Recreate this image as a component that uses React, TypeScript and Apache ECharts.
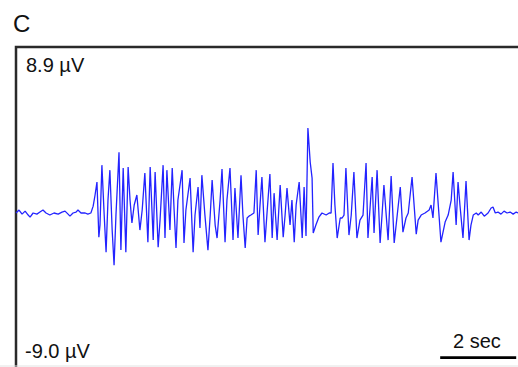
import React, { useEffect, useRef } from "react";
import * as echarts from "echarts";

const panelLabel = "C";
const topLabel = "8.9 µV";
const bottomLabel = "-9.0 µV";
const scaleLabel = "2 sec";
const yMin = -9.0;
const yMax = 8.9;
const xMax = 13.26;

const timeSec = [
  0, 0.08, 0.16, 0.24, 0.32, 0.37, 0.45, 0.55, 0.63, 0.71, 0.79, 0.89, 1.0, 1.11, 1.21, 1.29, 1.37, 1.42, 1.5, 1.58,
  1.63, 1.71, 1.82, 1.89, 1.97,
  2.03, 2.08, 2.13, 2.18, 2.21, 2.26, 2.32, 2.37, 2.42, 2.47, 2.53, 2.58, 2.63, 2.71, 2.76, 2.82, 2.89, 2.95, 3.0, 3.05,
  3.11, 3.18, 3.26, 3.32, 3.39, 3.47, 3.53, 3.61, 3.66, 3.74, 3.79, 3.87, 3.92, 3.97, 4.05, 4.11, 4.16, 4.21, 4.26, 4.37,
  4.42, 4.47, 4.58, 4.66, 4.71, 4.79, 4.84, 4.89, 4.97, 5.05, 5.11, 5.16, 5.24, 5.29, 5.37, 5.42, 5.5, 5.55, 5.63, 5.71,
  5.76, 5.84, 5.92, 5.97, 6.03, 6.08, 6.13, 6.18, 6.26, 6.32, 6.37, 6.42, 6.47, 6.55, 6.61, 6.68, 6.74, 6.79, 6.87, 6.95,
  7.03, 7.08, 7.13, 7.21, 7.26, 7.32, 7.37, 7.45, 7.53, 7.58, 7.63, 7.68, 7.74, 7.79, 7.82, 7.89, 7.97, 8.05, 8.16, 8.24,
  8.29, 8.34, 8.39, 8.45, 8.53, 8.58, 8.63, 8.68, 8.76, 8.82, 8.89, 8.97, 9.05, 9.13, 9.21, 9.26, 9.32, 9.37, 9.42, 9.5,
  9.58, 9.63, 9.68, 9.79, 9.87, 9.95, 10.03, 10.11, 10.18, 10.26, 10.32, 10.42, 10.53, 10.58, 10.66, 10.76, 10.87, 10.92,
  10.97, 11.05, 11.11, 11.18, 11.29, 11.37, 11.45, 11.5, 11.58, 11.63, 11.68, 11.76, 11.84, 11.92, 11.97, 12.03, 12.11,
  12.16, 12.24, 12.32, 12.42, 12.5, 12.55, 12.61, 12.68, 12.76, 12.84, 12.92, 13.0, 13.08, 13.16, 13.21,
];

const microVolts = [
  -0.05, 0.11, -0.11, 0.05, -0.16, -0.27, -0.05, -0.11, 0, 0.11, -0.05, -0.16, -0.05, -0.11, 0, 0.05, -0.11, -0.22, -0.05, 0,
  0.11, -0.05, -0.05, -0.11, -0.05,
  0.32, 0.92, 1.62, -1.35, -0.7, 2.53, -0.16, -2.16, 0.65, 2.26, -0.97, -2.86, -0.16, 3.23, -2.05, 2.37, -2.16, 2.43, 0.65, -0.59,
  0.38, 0.92, -0.97, 0.11, 2.1, -1.62, 2.43, -1.51, 2.16, -1.89, -0.43, 2.53, -1.4, 2.26, -0.97, 2.37, 0.11, -1.94, 0.65, 2.26,
  -1.67, 0.11, 1.83, -2.16, -0.16, 1.35, -0.86, 1.99, -0.16, -2.05, -0.16, 1.73, -0.7, -1.4, 0.65, 2.32, -1.62, 0.65, 2.37, -1.51,
  1.29, -1.4, 1.99, -0.16, -1.94, -0.32, -0.22, -0.16, -0.05, 2.26, -1.24, 0.38, 1.89, -1.62, 0.11, 2.05, -1.4, 1.02, -1.51, 1.46,
  -1.35, -0.16, 1.29, -0.7, 0.65, -1.62, 0.38, 1.62, -1.4, 1.35, -1.29, 4.53, 2.7, 1.83, -1.13, -0.7, -0.27, -0.05, -0.16, -0.05,
  -0.05, 2.64, 0.38, -1.4, -0.32, -0.32, -0.16, 2.37, -1.24, -0.16, 2.16, -1.4, -0.43, -0.16, 2.64, -1.4, 0.38, 1.89, -1.13, 2.26,
  -1.67, -0.16, 1.46, -1.51, 1.94, -1.67, -0.16, 1.35, -1.08, -0.32, -0.05, 1.89, -1.19, -0.43, -0.16, -0.05, 0.11, 0.38,
  -0.32, 2.1, 0.38, -1.62, -0.54, -0.16, 0.65, 2.16, -0.7, 1.62, 0.38, -1.4, 1.67, -1.51, -0.7, -0.16, -0.05,
  -0.16, 0, -0.22, -0.05, 0.22, 0.27, -0.05, 0, -0.11, 0.05, -0.05, 0, -0.11, 0, -0.05,
];

const scaleBarTime = [11.16, 13.16];
const scaleBarLevel = -7.85;

const FONT = '"Liberation Sans", Arial, Helvetica, sans-serif';

export default function App() {
  const ref = useRef<HTMLDivElement>(null);

  useEffect(() => {
    if (!ref.current) return;
    const chart = echarts.init(ref.current, undefined, { renderer: "svg" });
    const trace = timeSec.map((t, i) => [t, microVolts[i]]);
    const bar = scaleBarTime.map((t) => [t, scaleBarLevel]);

    chart.setOption({
      animation: false,
      backgroundColor: "#ffffff",
      grid: {
        left: 16,
        top: 47,
        width: 504,
        height: 332,
        outerBoundsMode: "none",
        containLabel: false,
        show: true,
        borderColor: "#2a2a2a",
        borderWidth: 2.5,
        backgroundColor: "transparent",
      },
      xAxis: {
        type: "value",
        min: 0,
        max: xMax,
        axisLine: { show: false },
        axisTick: { show: false },
        axisLabel: { show: false },
        splitLine: { show: false },
      },
      yAxis: {
        type: "value",
        min: yMin,
        max: yMax,
        axisLine: { show: false },
        axisTick: { show: false },
        axisLabel: { show: false },
        splitLine: { show: false },
      },
      series: [
        {
          type: "line",
          data: trace,
          showSymbol: false,
          symbol: "none",
          lineStyle: { color: "#2323ff", width: 1.3 },
          clip: false,
        },
        {
          type: "line",
          data: bar,
          showSymbol: false,
          symbol: "none",
          lineStyle: { color: "#000000", width: 2.7 },
          clip: false,
        },
      ],
      graphic: [
        {
          type: "text",
          left: 13,
          top: 11,
          style: { text: panelLabel, font: `24px ${FONT}`, fill: "#111" },
        },
        {
          type: "text",
          left: 26,
          top: 55,
          style: { text: topLabel, font: `20px ${FONT}`, fill: "#111" },
        },
        {
          type: "text",
          left: 25,
          top: 341,
          style: { text: bottomLabel, font: `20px ${FONT}`, fill: "#111" },
        },
        {
          type: "text",
          left: 453,
          top: 331,
          style: { text: scaleLabel, font: `20px ${FONT}`, fill: "#111" },
        },
        {
          type: "line",
          shape: { x1: 0, y1: 366, x2: 518, y2: 366 },
          style: { stroke: "#e2e2e2", lineWidth: 1 },
        },
      ],
    });

    return () => chart.dispose();
  }, []);

  return (
    <div
      ref={ref}
      style={{ position: "absolute", left: 0, top: 0, width: 518, height: 367 }}
    />
  );
}
